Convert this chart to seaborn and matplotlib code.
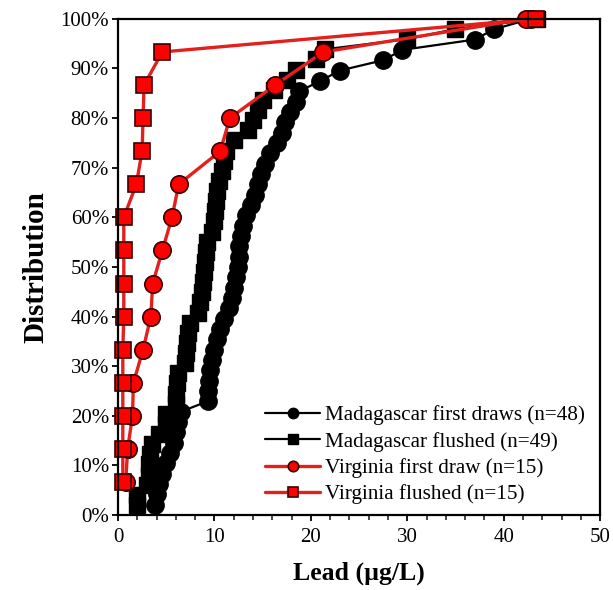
import numpy as np
import pandas as pd
import matplotlib
matplotlib.use("Agg")
import matplotlib.pyplot as plt
import seaborn as sns
from matplotlib.ticker import MultipleLocator, FuncFormatter

# Lead concentrations (µg/L), sorted
mad_first = [3.8, 4.0, 4.2, 4.6, 5.0, 5.4, 5.8, 6.0, 6.2, 6.5,
             9.3, 9.3, 9.4, 9.5, 9.8, 10.0, 10.3, 10.6, 11.0, 11.5,
             11.8, 12.0, 12.2, 12.4, 12.5, 12.6, 12.8, 13.0, 13.3, 13.8,
             14.2, 14.5, 14.8, 15.2, 15.8, 16.5, 17.0, 17.3, 17.8, 18.5,
             18.8, 21.0, 23.0, 27.5, 29.5, 37.0, 39.0, 42.8]
mad_flushed = [2.0, 2.0, 3.0, 3.2, 3.2, 3.3, 3.5, 4.2, 5.0, 5.0,
               6.0, 6.0, 6.1, 6.2, 7.0, 7.1, 7.2, 7.3, 7.5, 8.3,
               8.5, 8.7, 8.8, 8.9, 9.0, 9.1, 9.2, 9.8, 10.0, 10.1,
               10.2, 10.3, 10.5, 10.8, 11.0, 11.2, 12.0, 13.5, 14.0, 14.5,
               15.0, 16.2, 17.5, 18.5, 20.5, 21.5, 30.0, 35.0, 43.5]
va_first = [0.8, 1.0, 1.5, 1.6, 2.6, 3.4, 3.6, 4.6, 5.6, 6.3,
            10.6, 11.6, 16.3, 21.3, 42.3]
va_flushed = [0.5, 0.5, 0.5, 0.5, 0.5, 0.6, 0.6, 0.6, 0.6, 1.9,
              2.5, 2.6, 2.7, 4.6, 43.3]

labels = ["Madagascar first draws (n=48)", "Madagascar flushed (n=49)",
          "Virginia first draw (n=15)", "Virginia flushed (n=15)"]
x_ticks = [0, 10, 20, 30, 40, 50]
y_ticks = [0, 10, 20, 30, 40, 50, 60, 70, 80, 90, 100]

sns.set_theme(style="ticks")
plt.rcParams['font.family'] = ['Liberation Serif', 'DejaVu Serif']
plt.rcParams['text.color'] = 'black'
plt.rcParams['axes.labelcolor'] = 'black'

fig = plt.figure(figsize=(6.13, 5.90), dpi=100)
ax = fig.add_axes([0.1925, 0.127, 0.7865, 0.841])

series = [mad_first, mad_flushed, va_first, va_flushed]
styles = [
    dict(color="black", marker="o", mfc="black", mec="black", lw=1.6, ms=12.5),
    dict(color="black", marker="s", mfc="black", mec="black", lw=1.6, ms=12),
    dict(color="#E3201C", marker="o", mfc="#FF0000", mec="#3A0000", lw=2.4, ms=12.5, mew=1.2),
    dict(color="#E3201C", marker="s", mfc="#FF0000", mec="#3A0000", lw=2.4, ms=12, mew=1.2),
]
for vals, lab, st in zip(series, labels, styles):
    n = len(vals)
    df = pd.DataFrame({"lead": vals, "dist": np.arange(1, n + 1) / n * 100})
    sns.lineplot(data=df, x="lead", y="dist", estimator=None, sort=False,
                 ax=ax, label=lab, color=st["color"], lw=st["lw"],
                 marker=st["marker"], markerfacecolor=st["mfc"],
                 markeredgecolor=st["mec"], markersize=st["ms"],
                 markeredgewidth=st.get("mew", 1.0), clip_on=False)

ax.set_xlim(0, 50)
ax.set_ylim(0, 100)
ax.set_xticks(x_ticks)
ax.set_yticks(y_ticks)
ax.xaxis.set_minor_locator(MultipleLocator(2))
ax.yaxis.set_major_formatter(FuncFormatter(lambda v, p: f"{int(v)}%"))
ax.tick_params(axis="both", which="major", direction="out", length=4, width=1.3,
               labelsize=15, colors="black", labelcolor="black")
ax.tick_params(axis="y", which="major", pad=2.5)
ax.tick_params(axis="x", which="major", pad=5)
ax.tick_params(axis="x", which="minor", direction="out", length=3.5, width=1.2)
for s in ax.spines.values():
    s.set_visible(True)
    s.set_color("black")
    s.set_linewidth(1.6)

ax.set_xlabel("Lead (µg/L)", fontsize=18.5, fontweight="bold", labelpad=11,
              color="black")
ax.set_ylabel("Distribution", fontsize=21, fontweight="bold", labelpad=8,
              color="black")

handles, labs = ax.get_legend_handles_labels()
leg = ax.legend(handles, labs, loc="lower right", frameon=False, fontsize=15.2,
                handlelength=2.6, handletextpad=0.2, labelspacing=0.3,
                markerscale=0.6, borderaxespad=0.0, bbox_to_anchor=(0.985, 0.005))
for t in leg.get_texts():
    t.set_color("black")

fig.savefig("out.png", dpi=100)
